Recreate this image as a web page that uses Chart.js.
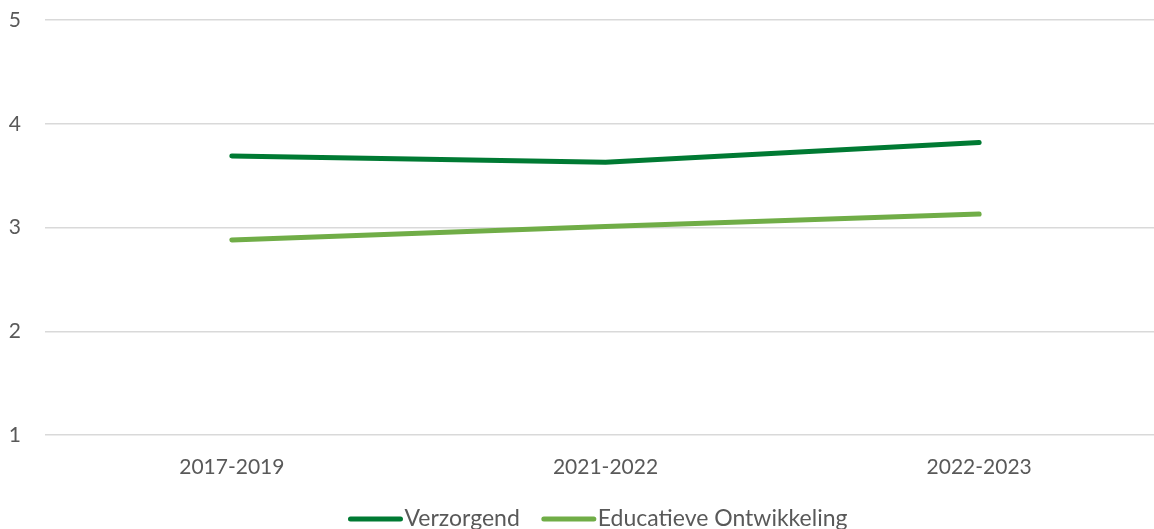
<!DOCTYPE html>
<html lang="nl">
<head>
<meta charset="utf-8">
<title>Verzorgend / Educatieve Ontwikkeling</title>
<script src="https://cdn.jsdelivr.net/npm/chart.js@4/dist/chart.umd.min.js"></script>
<style>
    html, body { margin: 0; padding: 0; background: #fff; overflow: hidden; }
    .chart-wrap { position: relative; width: 1166px; height: 529px; }
</style>
</head>
<body>
<div class="chart-wrap">
    <canvas id="trendChart"></canvas>
</div>
<script>
// Data
const periods = ['2017-2019', '2021-2022', '2022-2023'];
const verzorgend = [3.69, 3.63, 3.82];
const educatieveOntwikkeling = [2.88, 3.01, 3.13];
const yTicks = [1, 2, 3, 4, 5];

const FONT = 'Lato, "Open Sans", sans-serif';
const TEXT_COLOR = '#595959';

// Legend drawn by hand: short thick line right before the label, like Excel does
const bottomLegend = {
    id: 'bottomLegend',
    afterDraw(chart) {
        const ctx = chart.ctx;
        const items = chart.data.datasets.map(ds => ({ label: ds.label, color: ds.borderColor }));
        const lineW = 54, gap = 2, itemGap = 22;
        ctx.save();
        ctx.font = '23px ' + FONT;
        const widths = items.map(it => lineW + gap + ctx.measureText(it.label).width);
        const total = widths.reduce((a, b) => a + b, 0) + itemGap * (items.length - 1);
        let x = 598 - total / 2;
        const y = 519;
        items.forEach((it, i) => {
            ctx.strokeStyle = it.color;
            ctx.lineWidth = 5;
            ctx.lineCap = 'round';
            ctx.beginPath();
            ctx.moveTo(x + 2, y);
            ctx.lineTo(x + lineW - 2, y);
            ctx.stroke();
            ctx.fillStyle = TEXT_COLOR;
            ctx.textBaseline = 'middle';
            ctx.textAlign = 'left';
            ctx.fillText(it.label, x + lineW + gap, y);
            x += widths[i] + itemGap;
        });
        ctx.restore();
    }
};

document.addEventListener('DOMContentLoaded', () => {
    const ctx = document.getElementById('trendChart').getContext('2d');

    new Chart(ctx, {
        type: 'line',
        data: {
            labels: periods,
            datasets: [
                {
                    label: 'Verzorgend',
                    data: verzorgend,
                    borderColor: '#007A33',
                    backgroundColor: '#007A33',
                    borderWidth: 5,
                    borderCapStyle: 'round',
                    tension: 0,
                    pointRadius: 0
                },
                {
                    label: 'Educatieve Ontwikkeling',
                    data: educatieveOntwikkeling,
                    borderColor: '#70AD47',
                    backgroundColor: '#70AD47',
                    borderWidth: 5,
                    borderCapStyle: 'round',
                    tension: 0,
                    pointRadius: 0
                }
            ]
        },
        options: {
            responsive: true,
            maintainAspectRatio: false,
            animation: false,
            layout: { padding: { top: 20, right: 0, bottom: 0, left: 0 } },
            plugins: {
                legend: { display: false },
                tooltip: { enabled: false }
            },
            scales: {
                x: {
                    offset: true,
                    grid: { display: false, drawTicks: false },
                    border: { display: false },
                    ticks: {
                        padding: 20,
                        color: TEXT_COLOR,
                        font: { family: FONT, size: 21 }
                    },
                    afterFit: (scale) => { scale.height = 94; }
                },
                y: {
                    min: 1,
                    max: 5,
                    afterBuildTicks: (scale) => { scale.ticks = yTicks.map(v => ({ value: v })); },
                    grid: { color: '#D9D9D9', lineWidth: 1.5, drawTicks: false },
                    border: { display: false },
                    ticks: {
                        padding: 24,
                        color: TEXT_COLOR,
                        font: { family: FONT, size: 21 }
                    },
                    afterFit: (scale) => {
                        scale.width = 45;
                        scale.paddingTop = 0;
                        scale.paddingBottom = 0;
                    }
                }
            }
        },
        plugins: [bottomLegend]
    });
});
</script>
</body>
</html>
